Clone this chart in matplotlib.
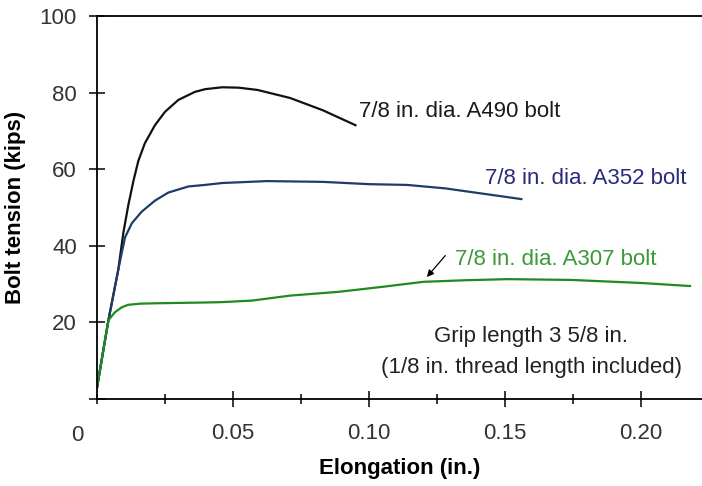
import matplotlib
matplotlib.use("Agg")
import matplotlib.pyplot as plt
from matplotlib.ticker import MultipleLocator

plt.rcParams['font.family'] = ['Liberation Sans', 'DejaVu Sans']

# curves (elongation in., tension kips)
a490_x = [0, 0.0042, 0.0078, 0.0097, 0.0115, 0.0134, 0.0152, 0.0176, 0.0213, 0.025, 0.0299,
          0.036, 0.0397, 0.046, 0.052, 0.059, 0.071, 0.083, 0.095]
a490_y = [3, 20.6, 33.7, 43.5, 50.6, 57.0, 62.2, 66.8, 71.5, 75.0, 78.1,
          80.2, 80.9, 81.4, 81.3, 80.7, 78.6, 75.4, 71.5]

a352_x = [0, 0.0042, 0.0078, 0.0086, 0.0103, 0.0128, 0.0164, 0.0213, 0.0262, 0.0336, 0.0397,
          0.046, 0.0625, 0.083, 0.100, 0.114, 0.128, 0.138, 0.156]
a352_y = [3, 20.6, 33.7, 36.5, 42.2, 45.9, 48.9, 51.8, 53.9, 55.5, 55.9,
          56.4, 56.9, 56.7, 56.1, 55.9, 55.0, 54.0, 52.2]

a307_x = [0, 0.0042, 0.0065, 0.009, 0.0114, 0.016, 0.022, 0.040, 0.046, 0.057, 0.071,
          0.089, 0.105, 0.120, 0.135, 0.151, 0.174, 0.200, 0.218]
a307_y = [3, 20.6, 22.6, 23.9, 24.6, 24.9, 25.0, 25.2, 25.3, 25.7, 27.0,
          28.0, 29.3, 30.6, 31.0, 31.3, 31.1, 30.3, 29.5]

x_ticks = [0.05, 0.10, 0.15, 0.20]
x_ticklabels = ["0.05", "0.10", "0.15", "0.20"]
y_ticks = [0, 20, 40, 60, 80, 100]
y_ticklabels = ["", "20", "40", "60", "80", "100"]

fig = plt.figure(figsize=(7.02, 4.86), dpi=100)
ax = fig.add_axes([0.1382, 0.179, 0.8618, 0.788])

ax.plot(a490_x, a490_y, color="#111111", lw=1.6, solid_joinstyle='round')
ax.plot(a352_x, a352_y, color="#1d3c66", lw=1.6, solid_joinstyle='round')
ax.plot(a307_x, a307_y, color="#1f8a1f", lw=1.6, solid_joinstyle='round')

ax.set_xlim(0, 0.2224)
ax.set_ylim(0, 100)

ax.spines['right'].set_visible(False)
for s in ['left', 'bottom', 'top']:
    ax.spines[s].set_linewidth(1.3)

ax.set_xticks(x_ticks)
ax.set_xticklabels(x_ticklabels)
ax.xaxis.set_minor_locator(MultipleLocator(0.025))
ax.set_yticks(y_ticks)
ax.set_yticklabels(y_ticklabels)
ax.tick_params(axis='x', which='major', direction='inout', length=11, width=1.1,
               labelsize=16, labelcolor="#333333", pad=12)
ax.tick_params(axis='x', which='minor', direction='inout', length=7, width=1.1)
ax.tick_params(axis='y', direction='inout', length=11, width=1.1,
               labelsize=16, labelcolor="#333333", pad=9)
ax.annotate("0", xy=(0, 0), xycoords='data', xytext=(-14, -26), textcoords='offset points',
            ha='center', va='center', fontsize=16, color="#333333", annotation_clip=False)

ax.set_xlabel("Elongation (in.)", fontsize=16, fontweight='bold', labelpad=10)
ax.set_ylabel("Bolt tension (kips)", fontsize=16, fontweight='bold', labelpad=10)

ax.text(0.0962, 75, "7/8 in. dia. A490 bolt", fontsize=16, color="#1a1a1a", va='center')
ax.text(0.1426, 57.7, "7/8 in. dia. A352 bolt", fontsize=16, color="#2a2a7a", va='center')
ax.text(0.1316, 36.3, "7/8 in. dia. A307 bolt", fontsize=16, color="#3a9a3a", va='center')
ax.annotate("", xy=(0.1206, 31.3), xytext=(0.1287, 38.0),
            arrowprops=dict(arrowstyle="-|>", color="black", lw=0.9, mutation_scale=10))
ax.text(0.1596, 16.2, "Grip length 3 5/8 in.", fontsize=16, color="#222222", ha='center', va='center')
ax.text(0.1596, 8.1, "(1/8 in. thread length included)", fontsize=16, color="#222222", ha='center', va='center')

fig.savefig("out.png", dpi=100)
